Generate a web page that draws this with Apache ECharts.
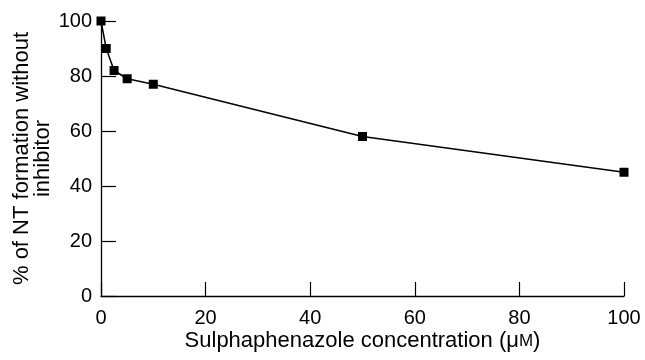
<!DOCTYPE html>
<html>
<head>
<meta charset="utf-8">
<script src="https://cdn.jsdelivr.net/npm/echarts@6/dist/echarts.min.js"></script>
<style>
  html, body { margin: 0; padding: 0; background: #fff; }
  #chart { width: 645px; height: 360px; }
</style>
</head>
<body>
<div id="chart"></div>
<script>
// Sulphaphenazole concentration (µM) and remaining NT formation (%)
const concentration = [0, 1, 2.5, 5, 10, 50, 100];
const ntFormation = [100, 90, 82, 79, 77, 58, 45];
const xTicks = [0, 20, 40, 60, 80, 100];
const yTicks = [0, 20, 40, 60, 80, 100];

const FONT = 'Liberation Sans';
const chart = echarts.init(document.getElementById('chart'), null, { renderer: 'canvas' });

chart.setOption({
  animation: false,
  backgroundColor: '#fff',
  grid: { left: 101, right: 21, top: 21, bottom: 64, outerBoundsMode: 'none', containLabel: false },
  xAxis: {
    type: 'value',
    min: xTicks[0],
    max: xTicks[xTicks.length - 1],
    interval: xTicks[1] - xTicks[0],
    name: '{t|Sulphaphenazole concentration (\u03bc}{s|M}{t|)}',
    nameLocation: 'middle',
    nameGap: 34,
    nameMoveOverlap: false,
    nameTextStyle: {
      rich: {
        t: { fontFamily: FONT, fontSize: 22, color: '#000' },
        s: { fontFamily: FONT, fontSize: 17, color: '#000' }
      }
    },
    axisLine: { show: true, onZero: false, lineStyle: { color: '#000', width: 1.3 } },
    axisTick: { show: true, inside: true, length: 14, lineStyle: { color: '#000', width: 1.2 } },
    axisLabel: { fontFamily: FONT, fontSize: 20, color: '#000', margin: 12 },
    splitLine: { show: false }
  },
  yAxis: {
    type: 'value',
    min: yTicks[0],
    max: yTicks[yTicks.length - 1],
    interval: yTicks[1] - yTicks[0],
    name: '% of NT formation without\ninhibitor',
    nameLocation: 'middle',
    nameGap: 48,
    nameMoveOverlap: false,
    nameTextStyle: { fontFamily: FONT, fontSize: 22, color: '#000', lineHeight: 21 },
    axisLine: { show: true, onZero: false, lineStyle: { color: '#000', width: 1.3 } },
    axisTick: { show: true, inside: true, length: 15, lineStyle: { color: '#000', width: 1.2 } },
    axisLabel: { fontFamily: FONT, fontSize: 20, color: '#000', margin: 9 },
    splitLine: { show: false }
  },
  series: [{
    type: 'line',
    data: concentration.map((c, i) => [c, ntFormation[i]]),
    symbol: 'rect',
    symbolSize: 9,
    showAllSymbol: true,
    lineStyle: { color: '#000', width: 1.5 },
    itemStyle: { color: '#000' },
    z: 5
  }]
});
</script>
</body>
</html>
